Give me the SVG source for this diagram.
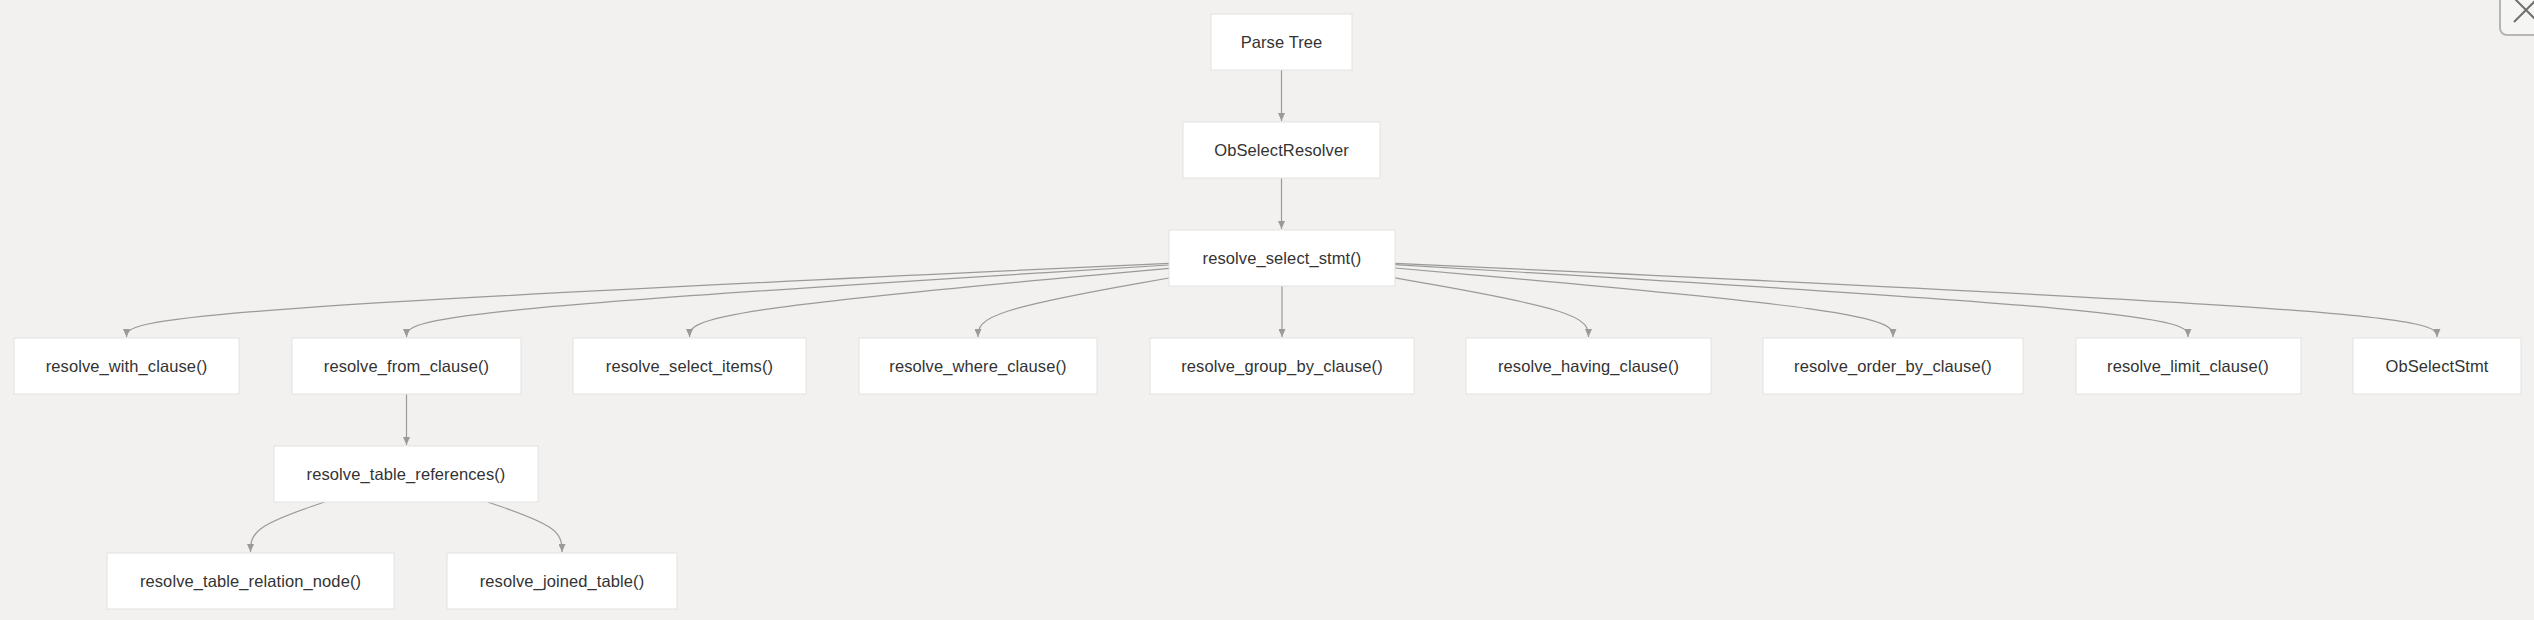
<svg xmlns="http://www.w3.org/2000/svg" width="2534" height="620" viewBox="0 0 2534 620">
<defs>
<style>
.node rect{fill:#ffffff;stroke:#e2e2e2;stroke-width:1}
.node text{font-family:"Liberation Sans",Arial,sans-serif;font-size:16.5px;letter-spacing:0.1px;fill:#333333;text-anchor:middle}
.edge{fill:none;stroke:#9a9a9a;stroke-width:1.2;marker-end:url(#arrow)}
</style>
<marker id="arrow" viewBox="0 0 8 7" refX="8" refY="3.5" markerWidth="8" markerHeight="7" markerUnits="userSpaceOnUse" orient="auto">
<path d="M0,0 L8,3.5 L0,7 z" fill="#9a9a9a"/>
</marker>
</defs>
<rect x="0" y="0" width="2534" height="620" fill="#f2f1ef"/>

<g id="connectors">
<path class="edge" d="M1281.5,70 L1281.5,121"/>
<path class="edge" d="M1281.5,178 L1281.5,229"/>
<path class="edge" d="M1169,263.3 L995.25,271.42 C821.5,279.53 474,295.77 300.25,308.05 C126.5,320.33 126.5,328.67 126.5,337"/>
<path class="edge" d="M1169,265 L1041.92,272.83 C914.83,280.67 660.67,296.33 533.58,308.33 C406.5,320.33 406.5,328.67 406.5,337"/>
<path class="edge" d="M1169,268.3 L1089.08,275.58 C1009.17,282.87 849.33,297.43 769.42,308.88 C689.5,320.33 689.5,328.67 689.5,337"/>
<path class="edge" d="M1169,278 L1137.17,283.67 C1105.33,289.33 1041.67,300.67 1009.83,310.5 C978,320.33 978,328.67 978,337"/>
<path class="edge" d="M1282,286 L1282,337"/>
<path class="edge" d="M1395,277.9 L1427.25,283.58 C1459.5,289.27 1524,300.63 1556.25,310.48 C1588.5,320.33 1588.5,328.67 1588.5,337"/>
<path class="edge" d="M1395,268 L1478,275.33 C1561,282.67 1727,297.33 1810,308.83 C1893,320.33 1893,328.67 1893,337"/>
<path class="edge" d="M1395,264.7 L1527.17,272.58 C1659.33,280.47 1923.67,296.23 2055.83,308.28 C2188,320.33 2188,328.67 2188,337"/>
<path class="edge" d="M1395,263.3 L1568.67,271.42 C1742.33,279.53 2089.67,295.77 2263.33,308.05 C2437,320.33 2437,328.67 2437,337"/>
<path class="edge" d="M406.5,394 L406.5,445"/>
<path class="edge" d="M324.6,502 L312.25,506.25 C299.9,510.5 275.2,519 262.85,527.33 C250.5,535.67 250.5,543.83 250.5,552"/>
<path class="edge" d="M487.6,502 L500,506.25 C512.4,510.5 537.2,519 549.6,527.33 C562,535.67 562,543.83 562,552"/>
</g>

<g id="parse_tree" class="node"><rect x="1211" y="14" width="141" height="56"/><text x="1281.5" y="47.8">Parse Tree</text></g>
<g id="ob_select_resolver" class="node"><rect x="1183" y="122" width="197" height="56"/><text x="1281.5" y="155.8">ObSelectResolver</text></g>
<g id="resolve_select_stmt" class="node"><rect x="1169" y="230" width="226" height="56"/><text x="1282" y="263.8">resolve_select_stmt()</text></g>

<g id="resolve_with_clause" class="node"><rect x="14" y="338" width="225" height="56"/><text x="126.5" y="371.8">resolve_with_clause()</text></g>
<g id="resolve_from_clause" class="node"><rect x="292" y="338" width="229" height="56"/><text x="406.5" y="371.8">resolve_from_clause()</text></g>
<g id="resolve_select_items" class="node"><rect x="573" y="338" width="233" height="56"/><text x="689.5" y="371.8">resolve_select_items()</text></g>
<g id="resolve_where_clause" class="node"><rect x="859" y="338" width="238" height="56"/><text x="978" y="371.8">resolve_where_clause()</text></g>
<g id="resolve_group_by_clause" class="node"><rect x="1150" y="338" width="264" height="56"/><text x="1282" y="371.8">resolve_group_by_clause()</text></g>
<g id="resolve_having_clause" class="node"><rect x="1466" y="338" width="245" height="56"/><text x="1588.5" y="371.8">resolve_having_clause()</text></g>
<g id="resolve_order_by_clause" class="node"><rect x="1763" y="338" width="260" height="56"/><text x="1893" y="371.8">resolve_order_by_clause()</text></g>
<g id="resolve_limit_clause" class="node"><rect x="2076" y="338" width="225" height="56"/><text x="2188" y="371.8">resolve_limit_clause()</text></g>
<g id="ob_select_stmt" class="node"><rect x="2353" y="338" width="168" height="56"/><text x="2437" y="371.8">ObSelectStmt</text></g>

<g id="resolve_table_references" class="node"><rect x="274" y="446" width="264" height="56"/><text x="406" y="479.8">resolve_table_references()</text></g>
<g id="resolve_table_relation_node" class="node"><rect x="107" y="553" width="287" height="56"/><text x="250.5" y="586.8">resolve_table_relation_node()</text></g>
<g id="resolve_joined_table" class="node"><rect x="447" y="553" width="230" height="56"/><text x="562" y="586.8">resolve_joined_table()</text></g>

<g id="close_button">
<rect x="2500" y="-20" width="60" height="55" rx="7" fill="#f5f5f4" stroke="#b5b5b5" stroke-width="2"/>
<path d="M2514,-2 L2538,22 M2514,22 L2538,-2" stroke="#707070" stroke-width="2" fill="none"/>
</g>
</svg>
